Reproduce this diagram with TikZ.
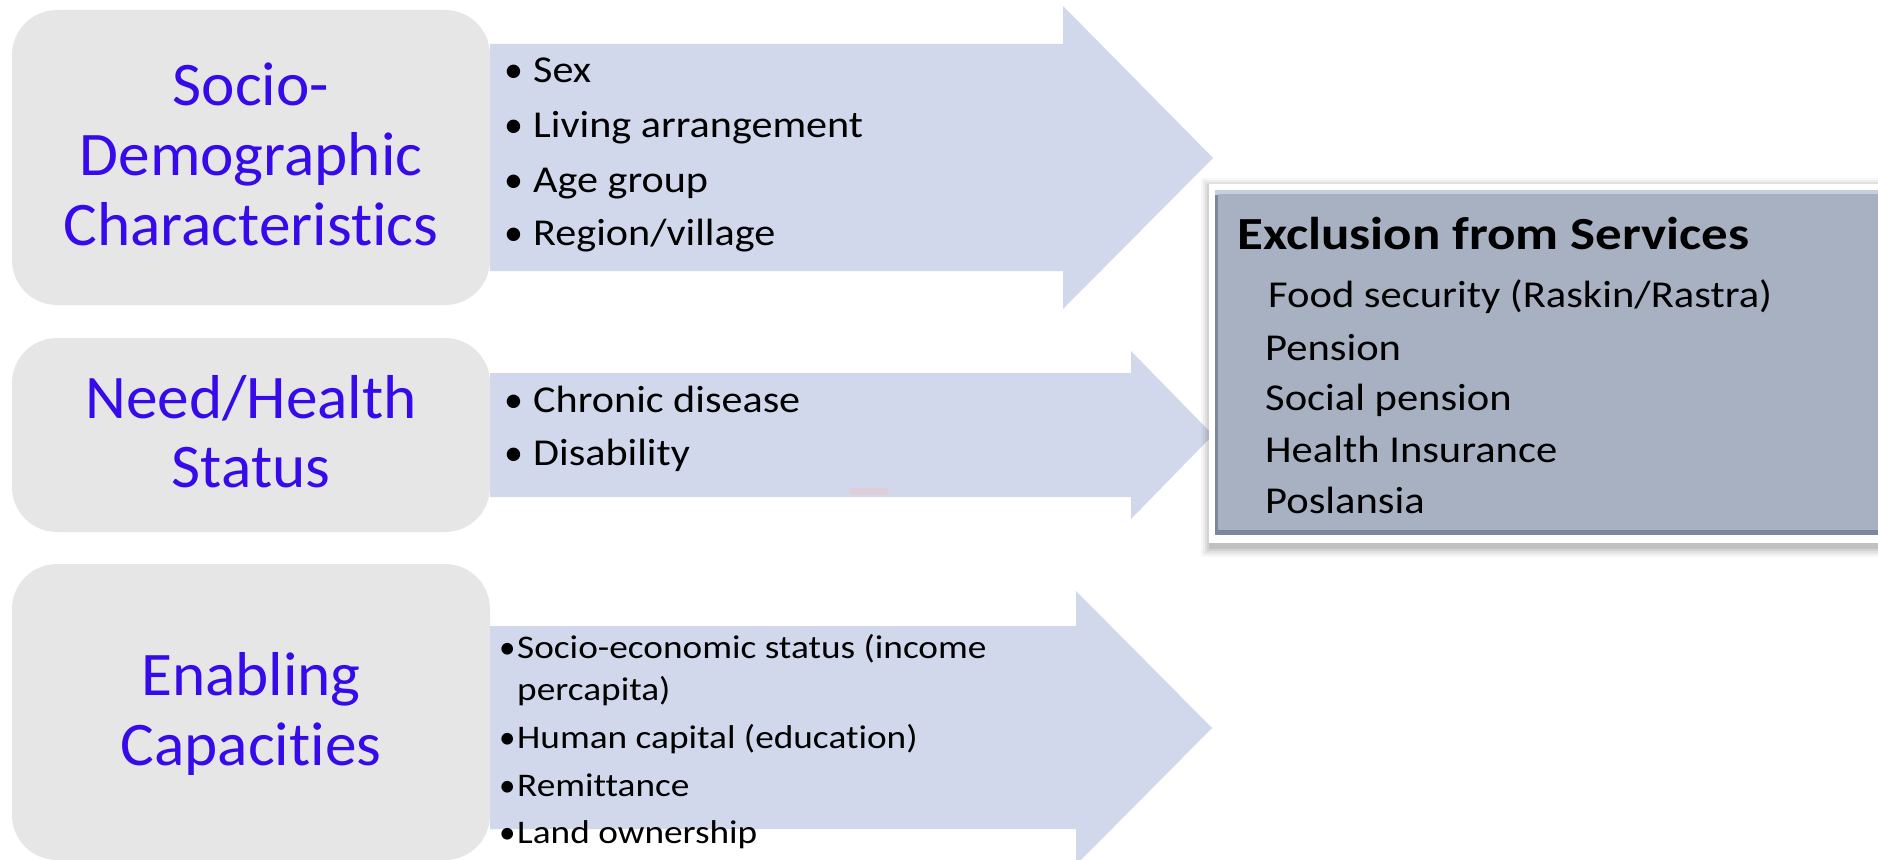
\documentclass[tikz,border=0pt]{standalone}
\usepackage{fontspec}
\setmainfont{Carlito}[Ligatures=NoCommon]
\definecolor{lbl}{RGB}{55,10,235}
\definecolor{boxgray}{RGB}{230,230,230}
\definecolor{arrowfill}{RGB}{210,216,235}
\definecolor{exfill}{RGB}{167,177,194}
\definecolor{exdark}{RGB}{125,135,155}
\definecolor{exlight}{RGB}{200,207,220}
\definecolor{pinkmark}{RGB}{222,206,216}
\newcommand{\sxa}[1]{\scalebox{1.11}[1]{#1}}
\newcommand{\sxb}[1]{\scalebox{1.13}[1]{#1}}
\newcommand{\sxc}[1]{\scalebox{1.15}[1]{#1}}
\newcommand{\sxd}[1]{\scalebox{1.12}[1]{#1}}
\newcommand{\sxe}[1]{\scalebox{1.02}[1]{#1}}
\tikzset{
  graybox/.style={fill=boxgray, rounded corners=45pt, inner sep=0pt, minimum width=478pt},
  biglbl/.style={text=lbl, font=\fontsize{62}{70}\selectfont, anchor=base, inner sep=0pt},
  arrowshape/.style={fill=arrowfill},
  bul/.style={font=\fontsize{38}{46}\selectfont, anchor=base west, inner sep=0pt},
  smallbul/.style={font=\fontsize{33}{40}\selectfont, anchor=base west, inner sep=0pt},
  extitle/.style={font=\fontsize{46}{52}\selectfont\bfseries, anchor=base west, inner sep=0pt},
  exitem/.style={font=\fontsize{38}{46}\selectfont, anchor=base west, inner sep=0pt}
}
\begin{document}
\begin{tikzpicture}[x=1pt,y=-1pt]
\useasboundingbox (0,0) rectangle (1878,859);
\fill[white] (0,0) rectangle (1878,859);

% arrows
\fill[arrowshape] (490,44) -- (1063,44) -- (1063,6) -- (1213,158) -- (1063,309) -- (1063,271) -- (490,271) -- cycle;
\fill[arrowshape] (490,373) -- (1131,373) -- (1131,351) -- (1213,435) -- (1131,519) -- (1131,497) -- (490,497) -- cycle;
\fill[arrowshape] (490,626) -- (1076,626) -- (1076,591) -- (1212,728) -- (1076,865) -- (1076,829) -- (490,829) -- cycle;
\fill[pinkmark] (850,488) rectangle (888,495);

% gray boxes
\node[graybox, minimum height=295pt] (b1) at (251,157.5) {};
\node[graybox, minimum height=194pt] (b2) at (251,435) {};
\node[graybox, minimum height=296pt] (b3) at (251,712) {};

\node[biglbl] (l1a) at (251,105) {\sxe{Socio-}};
\node[biglbl] (l1b) at (251,175) {\sxe{Demographic}};
\node[biglbl] (l1c) at (251,245) {\sxe{Characteristics}};
\node[biglbl] (l2a) at (251,418) {\sxe{Need/Health}};
\node[biglbl] (l2b) at (251,487) {\sxe{Status}};
\node[biglbl] (l3a) at (251,695) {\sxe{Enabling}};
\node[biglbl] (l3b) at (251,765) {\sxe{Capacities}};

% bullets arrow 1
\foreach \y/\t [count=\i] in {82/Sex, 137/Living arrangement, 192/Age group, 245/Region\slash village} {
  \node[bul] (d\i) at (504,\y) {•};
  \node[bul] (t\i) at (533,\y) {\sxa{\t}};
}
% bullets arrow 2
\foreach \y/\t [count=\i] in {412/Chronic disease, 465/Disability} {
  \node[bul] (e\i) at (504,\y) {•};
  \node[bul] (u\i) at (533,\y) {\sxa{\t}};
}
% bullets arrow 3
\node[smallbul] (f1) at (499,658) {•};
\node[smallbul] (v1) at (517,658) {\sxb{Socio-economic status (income}};
\node[smallbul] (v1b) at (517,700) {\sxb{percapita)}};
\node[smallbul] (f2) at (499,748) {•};
\node[smallbul] (v2) at (517,748) {\sxb{Human capital (education)}};
\node[smallbul] (f3) at (499,796) {•};
\node[smallbul] (v3) at (517,796) {\sxb{Remittance}};
\node[smallbul] (f4) at (499,843) {•};
\node[smallbul] (v4) at (517,843) {\sxb{Land ownership}};

% exclusion box with soft shadow
\foreach \o/\a in {10/0.03,8/0.04,6/0.05,4/0.06,2/0.08} {
  \fill[black, opacity=\a] (1209-\o+2,184-\o+4) rectangle (1900,543+\o+4);
}
\fill[white] (1209,184) rectangle (1900,543);
\fill[exdark] (1215,190) rectangle (1900,535);
\fill[exlight] (1215,190) rectangle (1900,195);
\fill[exfill] (1218,194) rectangle (1900,530);
\node[inner sep=0pt, minimum width=685pt, minimum height=345pt] (ex) at (1557.5,362.5) {};

\node[extitle] (xt) at (1237,249) {\sxc{Exclusion from Services}};
\node[exitem] (x1) at (1268,307) {\sxd{Food security (Raskin/Rastra)}};
\node[exitem] (x2) at (1265,360) {\sxd{Pension}};
\node[exitem] (x3) at (1265,410) {\sxd{Social pension}};
\node[exitem] (x4) at (1265,462) {\sxd{Health Insurance}};
\node[exitem] (x5) at (1265,513) {\sxd{Poslansia}};
\end{tikzpicture}
\end{document}
